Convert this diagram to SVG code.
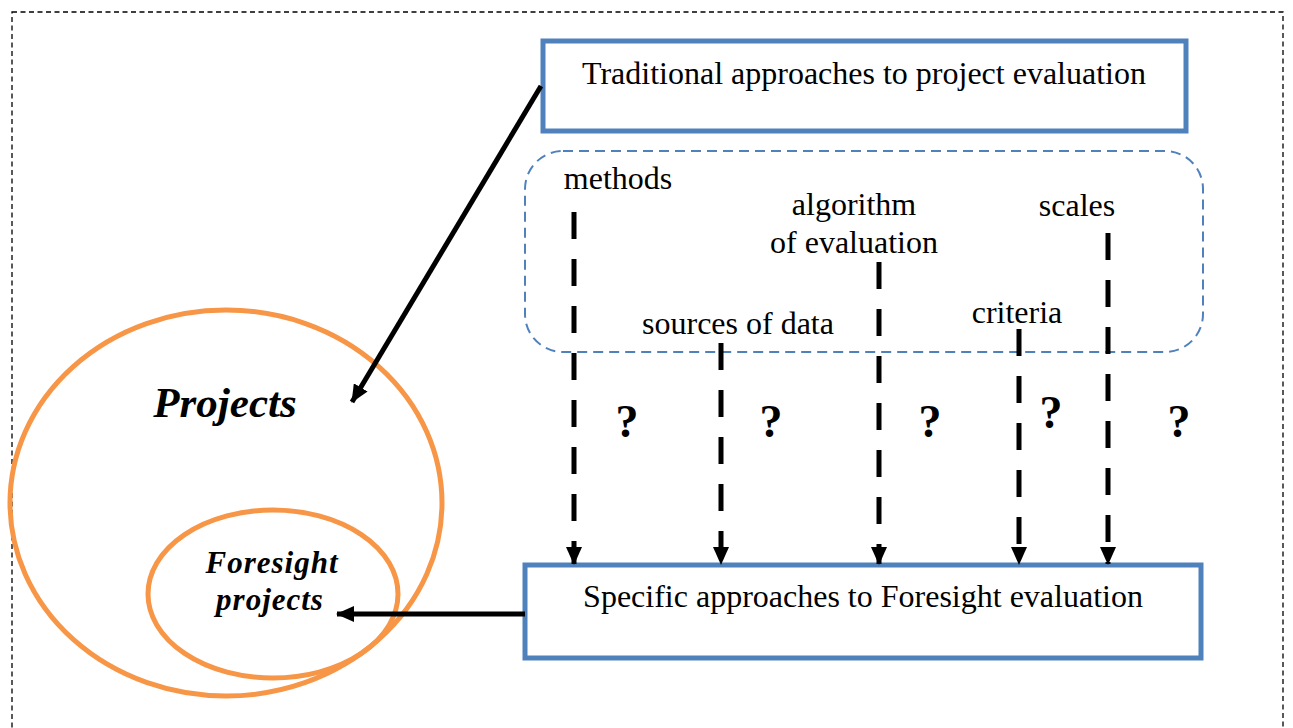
<svg xmlns="http://www.w3.org/2000/svg" width="1293" height="728" viewBox="0 0 1293 728">
<style>
.t{font-family:"Liberation Serif","Times New Roman",serif;font-size:32px;fill:#000}
.box{fill:#fff;stroke:#4F81BD;stroke-width:5}
.orb{fill:none;stroke:#F79646;stroke-width:5}
.dl{stroke:#000;stroke-width:5;stroke-dasharray:27 20;fill:none}
.sl{stroke:#000;stroke-width:5;fill:none}
.q{font-family:"Liberation Serif","Times New Roman",serif;font-size:46px;font-weight:bold;fill:#000}
.bi{font-family:"Liberation Serif","Times New Roman",serif;font-weight:bold;font-style:italic;fill:#000}
</style>
<defs>
<marker id="ah" markerUnits="userSpaceOnUse" markerWidth="18" markerHeight="16" viewBox="0 0 18 16" refX="17" refY="8" orient="auto">
<path d="M0,0 L18,8 L0,16 Z" fill="#000"/>
</marker>
</defs>
<rect width="1293" height="728" fill="#fff"/>
<rect id="frame" x="12" y="12" width="1271" height="740" fill="none" stroke="#000" stroke-width="1.3" stroke-dasharray="5 3.5"/>
<g id="projects">
<ellipse class="orb" cx="226" cy="503" rx="216" ry="193"/>
<text class="bi" x="225" y="417" font-size="43" text-anchor="middle">Projects</text>
</g>
<g id="foresight">
<ellipse class="orb" cx="273" cy="594" rx="125" ry="84"/>
<text class="bi" x="272" y="573" font-size="31" letter-spacing="1" text-anchor="middle">Foresight</text>
<text class="bi" x="270" y="610" font-size="31" letter-spacing="1" text-anchor="middle">projects</text>
</g>
<g id="traditional">
<rect class="box" x="543" y="41" width="643" height="90"/>
<text class="t" x="864" y="84" text-anchor="middle">Traditional approaches to project evaluation</text>
</g>
<g id="aspects">
<rect x="525" y="151" width="678" height="201" rx="38" fill="none" stroke="#4F81BD" stroke-width="2" stroke-dasharray="10 6"/>
<text class="t" x="618" y="189" text-anchor="middle">methods</text>
<text class="t" x="854" y="215" text-anchor="middle">algorithm</text>
<text class="t" x="854" y="253" text-anchor="middle">of evaluation</text>
<text class="t" x="1077" y="216" text-anchor="middle">scales</text>
<text class="t" x="1017" y="323" text-anchor="middle">criteria</text>
<text class="t" x="738" y="334" text-anchor="middle">sources of data</text>
</g>
<g id="specific">
<rect class="box" x="525" y="565" width="676" height="93"/>
<text class="t" x="863" y="607" text-anchor="middle">Specific approaches to Foresight evaluation</text>
</g>
<g id="connectors">
<line class="dl" x1="574" y1="212" x2="574" y2="564" marker-end="url(#ah)"/>
<line class="dl" x1="721" y1="343" x2="721" y2="564" marker-end="url(#ah)"/>
<line class="dl" x1="879" y1="262" x2="879" y2="564" marker-end="url(#ah)"/>
<line class="dl" x1="1019" y1="329" x2="1019" y2="564" marker-end="url(#ah)"/>
<line class="dl" x1="1108" y1="233" x2="1108" y2="564" marker-end="url(#ah)"/>
<line class="sl" x1="541" y1="86" x2="352" y2="402" marker-end="url(#ah)"/>
<line class="sl" x1="525" y1="614" x2="337" y2="614" marker-end="url(#ah)"/>
</g>
<g id="questions">
<text class="q" x="627" y="437" text-anchor="middle">?</text>
<text class="q" x="771" y="437" text-anchor="middle">?</text>
<text class="q" x="930" y="437" text-anchor="middle">?</text>
<text class="q" x="1051" y="428" text-anchor="middle">?</text>
<text class="q" x="1179" y="437" text-anchor="middle">?</text>
</g>
</svg>
